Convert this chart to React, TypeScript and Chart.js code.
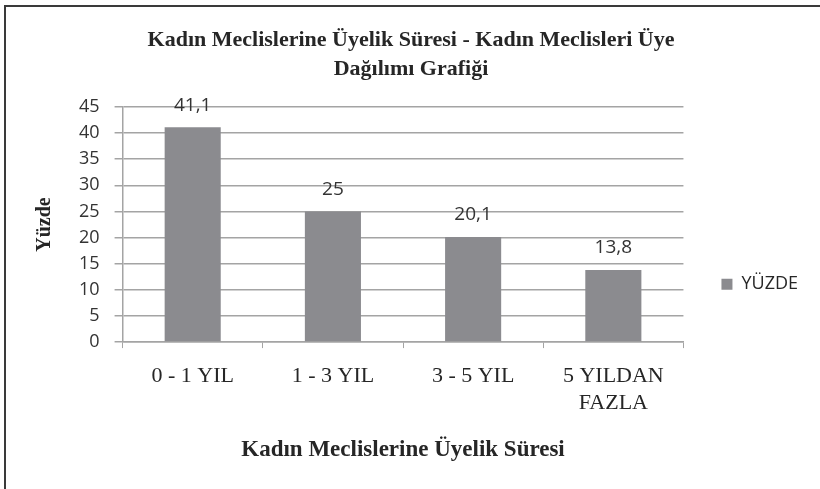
import React, { useEffect, useRef } from "react";
import { Chart, registerables } from "chart.js";

Chart.register(...registerables);

const categories: (string | string[])[] = ["0 - 1 YIL", "1 - 3 YIL", "3 - 5 YIL", ["5 YILDAN", "FAZLA"]];
const seriesName = "YÜZDE";
const values = [41.1, 25, 20.1, 13.8];
const yTicks = { min: 0, max: 45, step: 5 };
const titleLines = ["Kadın Meclislerine Üyelik Süresi - Kadın Meclisleri Üye", "Dağılımı Grafiği"];
const xTitle = "Kadın Meclislerine Üyelik Süresi";
const yTitle = "Yüzde";

const BAR = "#8b8b8f";
const GRID = "#a4a4a4";
const TEXT = "#262626";

const framePlugin = {
  id: "frame",
  beforeDraw(chart: any) {
    const { ctx, width, height } = chart;
    ctx.save();
    ctx.fillStyle = "#ffffff";
    ctx.fillRect(0, 0, width, height);
    ctx.fillStyle = "#3a3a3a";
    ctx.fillRect(4, 5, width - 4, 2);
    ctx.fillRect(4, 5, 2, height - 5);
    ctx.restore();
  },
};

const valueLabels = {
  id: "valueLabels",
  afterDatasetsDraw(chart: any) {
    const { ctx } = chart;
    const meta = chart.getDatasetMeta(0);
    ctx.save();
    ctx.font = "19px 'Open Sans'";
    ctx.fillStyle = "#333333";
    ctx.textAlign = "center";
    ctx.textBaseline = "middle";
    meta.data.forEach((bar: any, i: number) => {
      const v = chart.data.datasets[0].data[i] as number;
      ctx.fillText(String(v).replace(".", ","), bar.x, bar.y - 22);
    });
    ctx.restore();
  },
};

export default function App() {
  const ref = useRef<HTMLCanvasElement | null>(null);
  useEffect(() => {
    document.body.style.margin = "0";
    if (!ref.current) return;
    const chart = new Chart(ref.current, {
      type: "bar",
      data: {
        labels: categories,
        datasets: [
          {
            label: seriesName,
            data: values,
            backgroundColor: BAR,
            borderWidth: 0,
            barPercentage: 0.4,
            categoryPercentage: 1,
          },
        ],
      },
      options: {
        responsive: false,
        animation: false,
        layout: { padding: { left: 14, right: 12, top: 0, bottom: 10 } },
        plugins: {
          title: {
            display: true,
            text: titleLines,
            color: TEXT,
            font: { family: "'Liberation Serif'", size: 22, weight: "bold", lineHeight: 1.318 },
            padding: { top: 26, bottom: 23 },
          },
          legend: {
            display: true,
            position: "right",
            title: { display: true, text: " ", font: { size: 12, lineHeight: 1.2 }, padding: { top: 0, bottom: 75 } },
            labels: {
              color: TEXT,
              font: { family: "'Open Sans'", size: 18 },
              boxWidth: 11,
              boxHeight: 11,
              padding: 38,
            },
          },
          tooltip: { enabled: false },
        },
        scales: {
          x: {
            offset: true,
            grid: { display: true, drawOnChartArea: false, tickLength: 6, color: GRID, offset: true },
            border: { display: true, color: GRID, width: 1.5 },
            ticks: {
              color: TEXT,
              padding: 14,
              maxRotation: 0,
              autoSkip: false,
              font: { family: "'Liberation Serif'", size: 22, lineHeight: 1.25 },
            },
            title: {
              display: true,
              text: xTitle,
              color: TEXT,
              font: { family: "'Liberation Serif'", size: 23, weight: "bold", lineHeight: 1.04 },
              padding: { top: 7, bottom: 17 },
            },
          },
          y: {
            min: yTicks.min,
            max: yTicks.max,
            grid: { color: GRID, tickLength: 8, lineWidth: 1.5 },
            border: { display: true, color: GRID, width: 1.5 },
            ticks: {
              stepSize: yTicks.step,
              color: "#333333",
              padding: 15,
              font: { family: "'Open Sans'", size: 18 },
            },
            title: {
              display: true,
              text: yTitle,
              color: TEXT,
              font: { family: "'Liberation Serif'", size: 20, weight: "bold", lineHeight: 1.2 },
              padding: { top: 19, bottom: 7 },
            },
          },
        },
      },
      plugins: [framePlugin, valueLabels],
    });
    return () => chart.destroy();
  }, []);
  return <canvas ref={ref} width={820} height={489} style={{ display: "block" }} />;
}
